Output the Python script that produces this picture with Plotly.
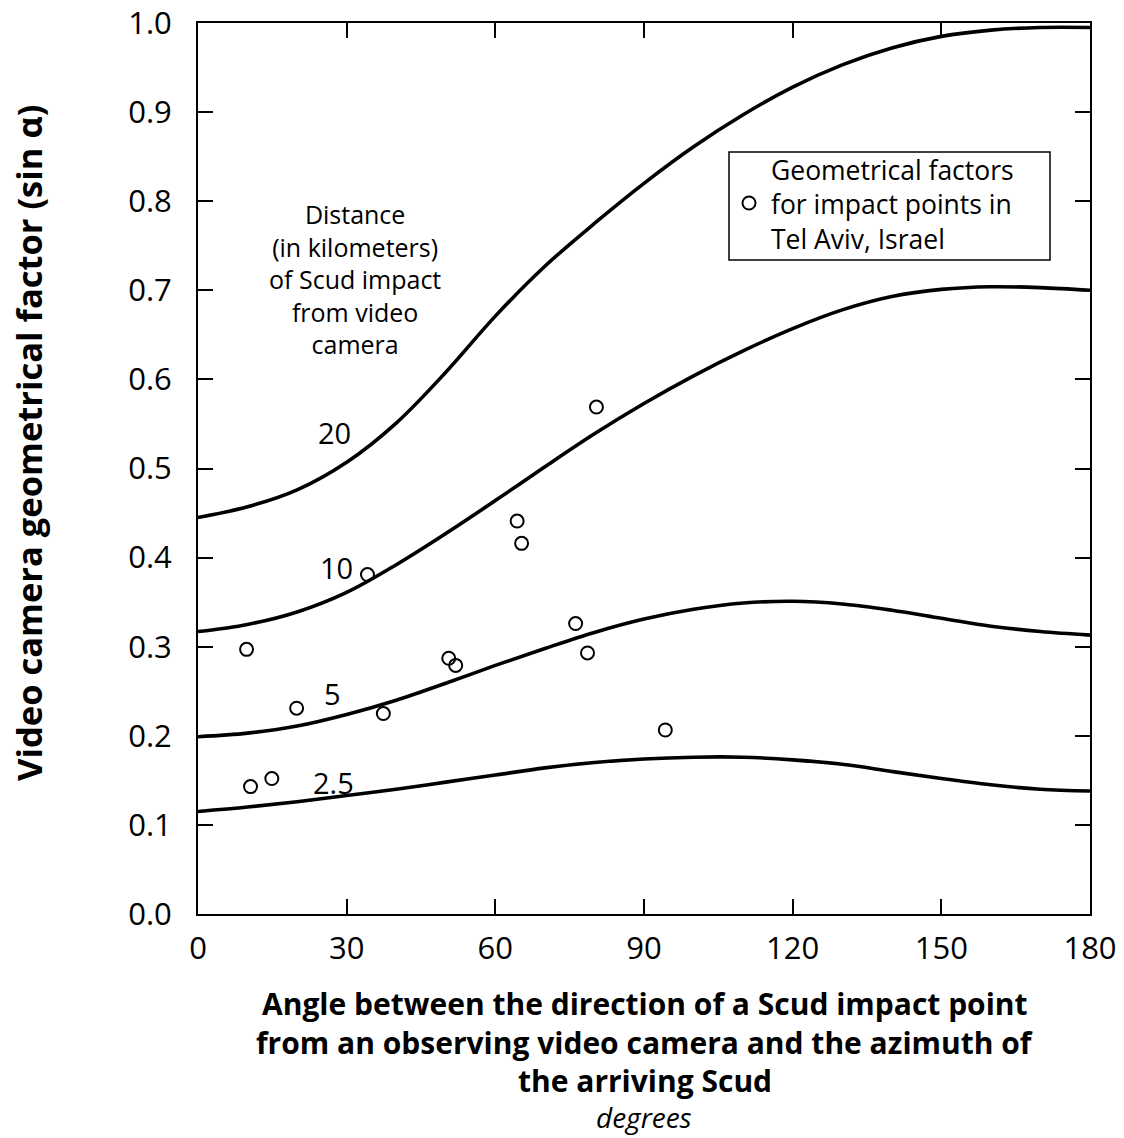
import plotly.graph_objects as go

# ---------------- data ----------------
angles = [0, 10, 20, 30, 40, 50, 60, 70, 80, 90, 100, 110, 120, 130, 140, 150, 160, 170, 180]
curve_20 = [0.445, 0.457, 0.476, 0.507, 0.551, 0.608, 0.671, 0.727, 0.775, 0.820, 0.861,
            0.897, 0.928, 0.953, 0.972, 0.985, 0.992, 0.995, 0.995]
curve_10 = [0.317, 0.325, 0.339, 0.361, 0.392, 0.427, 0.464, 0.502, 0.539, 0.573, 0.604,
            0.632, 0.657, 0.678, 0.693, 0.701, 0.704, 0.703, 0.700]
curve_5 = [0.199, 0.203, 0.211, 0.224, 0.240, 0.259, 0.279, 0.298, 0.316, 0.331, 0.342,
           0.349, 0.351, 0.348, 0.341, 0.332, 0.323, 0.317, 0.313]
curve_2_5 = [0.115, 0.120, 0.126, 0.133, 0.140, 0.148, 0.156, 0.164, 0.170, 0.174, 0.176,
             0.176, 0.173, 0.168, 0.160, 0.152, 0.145, 0.140, 0.138]

curve_names = ["20", "10", "5", "2.5"]
curve_values = [curve_20, curve_10, curve_5, curve_2_5]
label_x = [27.6, 28.0, 27.2, 27.4]
label_y = [0.540, 0.389, 0.247, 0.148]

impact_angle = [9.8, 10.6, 14.9, 19.9, 34.2, 37.4, 50.6, 52.0, 64.4, 65.3, 76.2, 78.6, 80.4, 94.3]
impact_factor = [0.297, 0.143, 0.152, 0.231, 0.381, 0.225, 0.287, 0.279, 0.441, 0.416,
                 0.326, 0.293, 0.569, 0.2065]

legend_lines = ["Geometrical factors", "for impact points in", "Tel Aviv, Israel"]

x_ticks = [0, 30, 60, 90, 120, 150, 180]
y_ticks = [0.0, 0.1, 0.2, 0.3, 0.4, 0.5, 0.6, 0.7, 0.8, 0.9, 1.0]

FONT = "Open Sans"


def px_x(p):
    return (p - 198) / 892


def px_y(p):
    return (914 - p) / 891


fig = go.Figure()
for name, vals in zip(curve_names, curve_values):
    fig.add_trace(go.Scatter(x=angles, y=vals, mode="lines", name=name + " km",
                             line=dict(color="black", width=3.6, shape="spline", smoothing=1.0),
                             showlegend=False, hoverinfo="skip"))

fig.add_trace(go.Scatter(
    x=impact_angle, y=impact_factor, mode="markers",
    name=" ",
    marker=dict(symbol="circle-open", size=13, color="black", line=dict(width=2, color="black")),
    showlegend=True))

annotations = []
for name, lx, ly in zip(curve_names, label_x, label_y):
    annotations.append(dict(x=lx, y=ly, xref="x", yref="y", text=name, showarrow=False,
                            font=dict(family=FONT, size=29, color="black")))

annotations.append(dict(x=31.7, y=0.7127, xref="x", yref="y",
                        text="Distance<br>(in kilometers)<br>of Scud impact<br>from video<br>camera",
                        showarrow=False, align="center",
                        font=dict(family=FONT, size=25, color="black")))

annotations.append(dict(x=px_x(769), y=px_y(205), xref="paper", yref="paper",
                        text="<br>".join(legend_lines), showarrow=False,
                        xanchor="left", yanchor="middle", align="left",
                        font=dict(family=FONT, size=26.5, color="black")))

title_lines = ["Angle between the direction of a Scud impact point",
               "from an observing video camera and the azimuth of",
               "the arriving Scud"]
title_py = [1003, 1042, 1080]
for t, py in zip(title_lines, title_py):
    annotations.append(dict(x=0.5006, y=px_y(py), xref="paper", yref="paper",
                            text="<b>" + t + "</b>", showarrow=False,
                            xanchor="center", yanchor="middle",
                            font=dict(family=FONT, size=30, color="black")))
annotations.append(dict(x=0.4999, y=px_y(1117), xref="paper", yref="paper",
                        text="<i>degrees</i>", showarrow=False,
                        xanchor="center", yanchor="middle",
                        font=dict(family=FONT, size=28, color="black")))
annotations.append(dict(x=px_x(29), y=px_y(443), xref="paper", yref="paper",
                        text="<b>Video camera geometrical factor (sin α)</b>", textangle=-90,
                        showarrow=False, xanchor="center", yanchor="middle",
                        font=dict(family=FONT, size=34.5, color="black")))

axis_common = dict(showline=True, linecolor="black", linewidth=2, mirror="ticks",
                   ticks="inside", ticklen=15, tickwidth=2, tickcolor="black",
                   showgrid=False, zeroline=False, automargin=False,
                   tickfont=dict(family=FONT, size=31, color="black"))

fig.update_layout(
    width=1124, height=1138,
    margin=dict(l=198, r=34, t=23, b=224, autoexpand=False),
    paper_bgcolor="white", plot_bgcolor="white",
    xaxis=dict(range=[0, 180], tickvals=x_ticks, ticktext=[str(v) for v in x_ticks],
               ticklabelstandoff=6, **axis_common),
    yaxis=dict(range=[0, 1.0], tickvals=y_ticks, ticktext=[f"{v:.1f}" for v in y_ticks],
               ticklabelstandoff=18, **axis_common),
    legend=dict(x=px_x(729), y=px_y(203), xanchor="left", yanchor="middle",
                borderwidth=0, bgcolor="rgba(0,0,0,0)",
                font=dict(family=FONT, size=20, color="black"), itemwidth=30),
    shapes=[dict(type="rect", xref="paper", yref="paper",
                 x0=px_x(729), x1=px_x(1050), y0=px_y(260), y1=px_y(152),
                 line=dict(color="black", width=1.5), fillcolor="rgba(0,0,0,0)", layer="above")],
    annotations=annotations,
    showlegend=True,
)

fig.write_html("out.html")
